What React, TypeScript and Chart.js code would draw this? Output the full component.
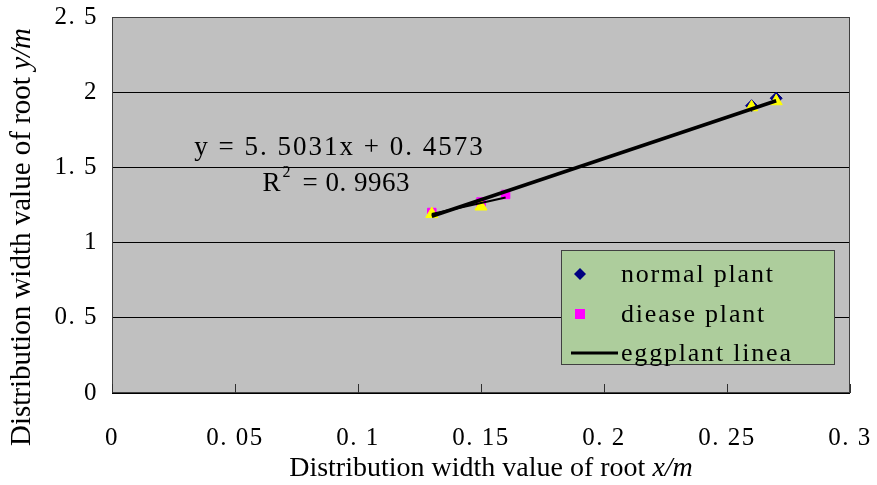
import React, { useEffect, useRef } from "react";
import { Chart, registerables } from "chart.js";

Chart.register(...registerables);

// ---- data ----
const normalX = [0.26, 0.27];
const normalY = [1.91, 1.96];
const diseaseX = [0.13, 0.15, 0.16];
const diseaseY = [1.2, 1.27, 1.32];
const markerX = [0.13, 0.15, 0.26, 0.27];
const markerY = [1.19, 1.24, 1.9, 1.94];
const fitX = [0.13, 0.27];
const fitY = [1.175, 1.943];
const diseaseFitX = [0.13, 0.16];
const diseaseFitY = [1.19, 1.3];
const xTicks = [0, 0.05, 0.1, 0.15, 0.2, 0.25, 0.3];
const yTicks = [0, 0.5, 1, 1.5, 2, 2.5];
const legendLabels = ["normal plant", "diease plant", "eggplant linea"];
const equationText = "y = 5. 5031x + 0. 4573";
const r2Text = "= 0. 9963";
const xTitle = ["Distribution width value of root ", "x/m"];
const yTitle = ["Distribution width value of root ", "y/m"];

const fmt = (v: number) => {
  const s = String(Math.round(v * 100) / 100);
  return s.replace(".", ". ");
};

const pts = (xs: number[], ys: number[]) => xs.map((x, i) => ({ x, y: ys[i] }));

const SERIF = "'Liberation Serif', serif";

const decor = {
  id: "decor",
  beforeDraw(chart: any) {
    const { ctx, chartArea: a } = chart;
    ctx.save();
    ctx.fillStyle = "#ffffff";
    ctx.fillRect(0, 0, chart.width, chart.height);
    ctx.fillStyle = "#c0c0c0";
    ctx.fillRect(a.left, a.top, a.right - a.left, a.bottom - a.top);
    ctx.restore();
    ctx.letterSpacing = "1.5px";
  },
  beforeDatasetsDraw(chart: any) {
    const { ctx, chartArea: a, scales } = chart;
    ctx.letterSpacing = "0px";
    ctx.save();
    // plot border
    ctx.strokeStyle = "#404040";
    ctx.lineWidth = 1;
    ctx.strokeRect(a.left + 0.5, a.top + 0.5, a.right - a.left - 1, a.bottom - a.top - 1);
    // inner x ticks
    ctx.strokeStyle = "#303030";
    xTicks.forEach((v) => {
      const px = Math.round(scales.x.getPixelForValue(v)) + 0.5;
      ctx.beginPath();
      ctx.moveTo(px, a.bottom);
      ctx.lineTo(px, a.bottom - 9);
      ctx.stroke();
    });
    // equation
    ctx.fillStyle = "#000";
    ctx.letterSpacing = "2px";
    ctx.font = "27px " + SERIF;
    ctx.textAlign = "center";
    ctx.textBaseline = "middle";
    ctx.fillText(equationText, scales.x.getPixelForValue(0.0925), scales.y.getPixelForValue(1.63));
    const rx = scales.x.getPixelForValue(0.0612);
    const ry = scales.y.getPixelForValue(1.39);
    ctx.textAlign = "left";
    ctx.fillText("R", rx, ry);
    const rw = ctx.measureText("R").width;
    ctx.font = "16px " + SERIF;
    ctx.fillText("2", rx + rw, ry - 11);
    ctx.letterSpacing = "0.5px";
    ctx.font = "27px " + SERIF;
    ctx.fillText(r2Text, rx + rw + 20, ry);
    ctx.restore();
  },
  afterDraw(chart: any) {
    const { ctx, chartArea: a } = chart;
    ctx.letterSpacing = "0px";
    ctx.save();
    // axis titles with italic units
    const drawTitle = (parts: string[], cx: number, cy: number, rot: number, size: number) => {
      ctx.save();
      ctx.translate(cx, cy);
      ctx.rotate(rot);
      ctx.fillStyle = "#000";
      ctx.textBaseline = "middle";
      ctx.textAlign = "left";
      ctx.font = size + "px " + SERIF;
      const w1 = ctx.measureText(parts[0]).width;
      ctx.font = "italic " + size + "px " + SERIF;
      const w2 = ctx.measureText(parts[1]).width;
      const start = -(w1 + w2) / 2;
      ctx.font = size + "px " + SERIF;
      ctx.fillText(parts[0], start, 0);
      ctx.font = "italic " + size + "px " + SERIF;
      ctx.fillText(parts[1], start + w1, 0);
      ctx.restore();
    };
    drawTitle(xTitle, (a.left + a.right) / 2 + 10, chart.height - 16, 0, 28);
    drawTitle(yTitle, 22, (a.top + a.bottom) / 2 + 32, -Math.PI / 2, 29);

    // legend box
    const lx = a.right - 289;
    const ly = a.bottom - 143;
    const lw = 273;
    const lh = 114;
    ctx.fillStyle = "#adcd9c";
    ctx.fillRect(lx, ly, lw, lh);
    ctx.strokeStyle = "#404040";
    ctx.lineWidth = 1;
    ctx.strokeRect(lx + 0.5, ly + 0.5, lw, lh);
    const rows = [ly + 24, ly + 64, ly + 103];
    const ds = chart.data.datasets;
    // diamond
    ctx.fillStyle = ds[0].backgroundColor;
    ctx.beginPath();
    ctx.moveTo(lx + 19, rows[0] - 6);
    ctx.lineTo(lx + 25, rows[0]);
    ctx.lineTo(lx + 19, rows[0] + 6);
    ctx.lineTo(lx + 13, rows[0]);
    ctx.closePath();
    ctx.fill();
    // square
    ctx.fillStyle = ds[1].backgroundColor;
    ctx.fillRect(lx + 14, rows[1] - 5, 10, 10);
    // line
    ctx.strokeStyle = "#000";
    ctx.lineWidth = 3;
    ctx.beginPath();
    ctx.moveTo(lx + 10, rows[2]);
    ctx.lineTo(lx + 57, rows[2]);
    ctx.stroke();
    ctx.fillStyle = "#000";
    ctx.font = "26px " + SERIF;
    ctx.letterSpacing = "1.8px";
    ctx.textAlign = "left";
    ctx.textBaseline = "middle";
    legendLabels.forEach((t, i) => ctx.fillText(t, lx + 60, rows[i] + 1));
    ctx.restore();
    ctx.letterSpacing = "0px";
  },
};

export default function App() {
  const ref = useRef<HTMLCanvasElement | null>(null);
  useEffect(() => {
    if (!ref.current) return;
    const chart = new Chart(ref.current, {
      type: "scatter",
      data: {
        datasets: [
          {
            label: legendLabels[0],
            data: pts(normalX, normalY),
            pointStyle: "rectRot",
            backgroundColor: "#000080",
            borderColor: "#000080",
            pointRadius: 6,
            order: 4,
          },
          {
            label: legendLabels[1],
            data: pts(diseaseX, diseaseY),
            pointStyle: "rect",
            backgroundColor: "#ff00ff",
            borderColor: "#ff00ff",
            pointRadius: 6,
            order: 3,
          },
          {
            label: "marker",
            data: pts(markerX, markerY),
            pointStyle: "triangle",
            backgroundColor: "#ffff00",
            borderColor: "#ffff00",
            pointRadius: 7,
            order: 2,
          },
          {
            label: legendLabels[2],
            type: "line",
            data: pts(fitX, fitY),
            borderColor: "#000",
            borderWidth: 3.5,
            pointRadius: 0,
            fill: false,
            order: 0,
          } as any,
          {
            label: "disease fit",
            type: "line",
            data: pts(diseaseFitX, diseaseFitY),
            borderColor: "#000",
            borderWidth: 2,
            pointRadius: 0,
            fill: false,
            order: 1,
          } as any,
        ],
      },
      options: {
        animation: false,
        responsive: false,
        maintainAspectRatio: false,
        layout: { padding: { top: 17, right: 27, left: 0, bottom: 0 } },
        plugins: { legend: { display: false }, tooltip: { enabled: false } },
        scales: {
          x: {
            type: "linear",
            min: 0,
            max: 0.3,
            afterFit: (s: any) => {
              s.height = 92;
              s.paddingLeft = 0;
              s.paddingRight = 0;
            },
            afterBuildTicks: (s: any) => {
              s.ticks = xTicks.map((v) => ({ value: v }));
            },
            grid: { display: false, drawTicks: false },
            border: { display: false },
            ticks: {
              padding: 30,
              color: "#000",
              font: { family: SERIF, size: 25 },
              maxRotation: 0,
              autoSkip: false,
              callback: (v: any) => fmt(Number(v)),
            },
          },
          y: {
            type: "linear",
            min: 0,
            max: 2.5,
            afterFit: (s: any) => {
              s.width = 112;
              s.paddingTop = 0;
              s.paddingBottom = 0;
            },
            afterBuildTicks: (s: any) => {
              s.ticks = yTicks.map((v) => ({ value: v }));
            },
            grid: { color: "#000", lineWidth: 1, drawTicks: false },
            border: { display: false },
            ticks: {
              padding: 14,
              color: "#000",
              font: { family: SERIF, size: 25 },
              autoSkip: false,
              callback: (v: any) => fmt(Number(v)),
            },
          },
        },
      },
      plugins: [decor],
    } as any);
    return () => chart.destroy();
  }, []);
  return (
    <div style={{ position: "fixed", left: 0, top: 0, width: 877, height: 485 }}>
      <canvas ref={ref} width={877} height={485} style={{ display: "block", width: 877, height: 485 }} />
    </div>
  );
}
